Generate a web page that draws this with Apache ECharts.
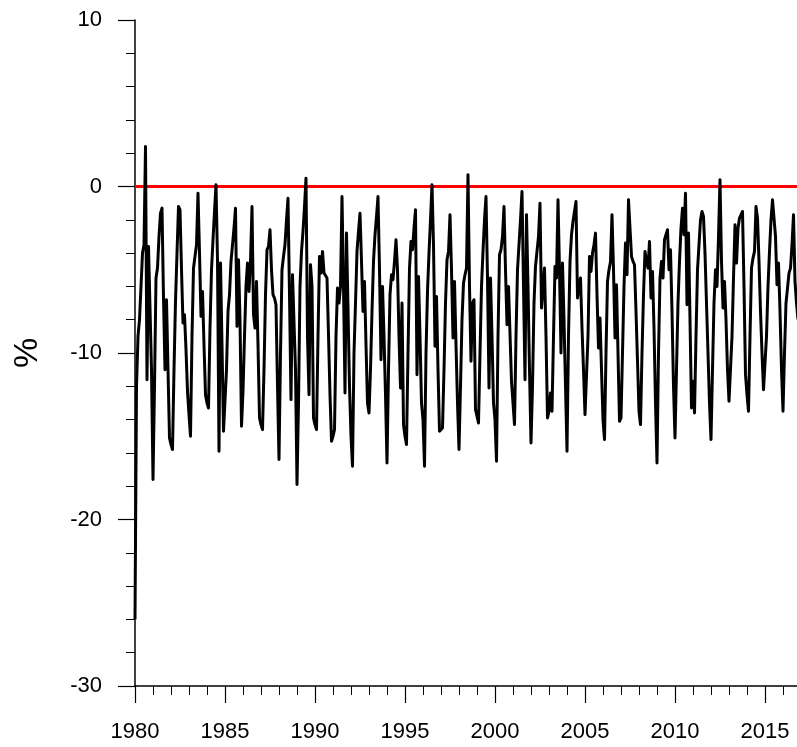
<!DOCTYPE html>
<html>
<head>
<meta charset="utf-8">
<script src="https://cdn.jsdelivr.net/npm/echarts@6/dist/echarts.min.js"></script>
<style>
html,body{margin:0;padding:0;background:#fff;overflow:hidden;width:797px;height:747px;}
#chart{width:860px;height:747px;}
</style>
</head>
<body>
<div id="chart"></div>
<script>
// Monthly values (%), starting January 1980
const startYear = 1980;
const values1980s = [
  -26, -12, -9, -8, -6, -4, -3.5, 2.4, -11.6, -3.6, -3.7, -11,
  -17.6, -12, -5.5, -4.9, -3, -1.6, -1.3, -6.7, -11, -6.8, -11, -15.1,
  -15.5, -15.8, -11, -6.9, -4, -1.2, -1.4, -5, -8.2, -7.7, -9.8, -12.3,
  -13.7, -15, -9, -4.9, -4.2, -3.5, -0.4, -4, -7.8, -6.3, -9.5, -12.5,
  -13, -13.3, -8.5, -5, -3.2, -1.5, 0.1, -4.4, -15.9, -4.6, -9.5, -14.7,
  -14.7, -11, -7.5, -6.5, -4.5, -3.5, -2.5, -1.3, -8.4, -4.4, -8, -14.4,
  -12.3, -9, -6, -4.6, -6.3, -4.5, -1.2, -7.7, -8.5, -5.7, -9.5, -13.9,
  -14.3, -14.6, -11, -6.5, -3.8, -3.6, -2.6, -5, -6.5, -6.7, -7.1, -12,
  -16.4, -10, -5, -4.2, -3.5, -2, -0.7, -6.5, -12.8, -5.3, -5.3, -11,
  -17.9, -13, -6, -3.9, -2.7, -1.2, 0.5, -9, -12.5, -4.7, -6, -13.9
];
const values1990s = [
  -14.3, -14.6, -9, -4.2, -5.2, -3.9, -5.2, -5.1, -5.5, -8.9, -12.5, -15.3,
  -15, -14.6, -9, -6.1, -7, -6, -0.6, -6, -12.4, -2.8, -7.3, -12,
  -15, -16.8, -10, -7, -3.9, -2.7, -1.6, -4.5, -7.5, -5.7, -9.5, -13,
  -13.6, -11, -7.5, -4.5, -2.9, -1.8, -0.6, -5, -10.4, -6, -9, -12.5,
  -16.6, -11, -6.5, -5.3, -5.6, -4.5, -3.2, -5, -9, -12.1, -7, -14.3,
  -15, -15.5, -10, -4.9, -3.3, -3.8, -2.5, -1.4, -11.3, -5.4, -9, -13,
  -14, -16.8, -10, -6.3, -4, -2, 0.1, -3.5, -9.6, -6.6, -11, -14.7,
  -14.6, -14.5, -11, -7, -4.4, -3.9, -1.7, -5, -9.1, -5.7, -9.5, -13,
  -15.8, -12, -8, -5.8, -5.3, -4.9, 0.7, -6, -10.5, -7, -6.8, -13.4,
  -13.8, -14.2, -10, -6, -3.9, -2, -0.6, -5.5, -12.1, -5.5, -9, -13
];
const values2000s = [
  -14, -16.5, -9, -4.1, -3.8, -3, -1.2, -5, -8.3, -6, -6, -11.7,
  -13, -14.3, -9, -5, -3.5, -2, -0.3, -6, -11.6, -1.7, -6, -11,
  -15.4, -12, -7, -4.8, -4.8, -3, -1, -7.3, -6, -4.9, -9, -13.9,
  -13.5, -12.4, -13.5, -9, -4.8, -5.5, -0.8, -5, -10, -4.6, -8, -12,
  -15.9, -9, -4.5, -2.9, -2.1, -1.5, -0.9, -6.7, -6, -5.5, -8.5, -11,
  -13.7, -13.8, -9, -4.2, -5.1, -4, -3.5, -2.8, -6.5, -9.7, -7.9, -11,
  -14, -15.2, -10, -5.7, -5, -4.5, -1.7, -5, -9.1, -5.9, -10, -14.1,
  -13.9, -10, -6, -3.4, -5.3, -0.8, -2.5, -4.2, -4.5, -4.7, -7.5, -10.5,
  -13.5, -14.3, -10, -6.5, -3.9, -4.5, -4.9, -3.3, -6.7, -5.1, -8.5, -13,
  -16.6, -10, -5.5, -4.5, -5.5, -3.2, -2.9, -2.6, -5, -3.8, -7.5, -12
];
const values2010s = [
  -15.1, -11, -7, -4.5, -2.5, -1.3, -2.9, -0.4, -7.1, -2.8, -8, -13.3,
  -11.7, -13.6, -9, -5, -3.5, -2, -1.5, -1.8, -4, -7, -10, -13,
  -15.2, -11, -7, -5, -6, -3, 0.4, -4.5, -7.3, -5.7, -8, -11,
  -12.9, -13, -9, -5.5, -2.3, -4.6, -2.5, -1.9, -1.7, -1.5, -6, -11.3,
  -12.5, -13.5, -9, -4.9, -4.3, -3.9, -1.2, -1.9, -4.5, -7.5, -10, -12.2,
  -12.1, -9, -6, -3.9, -2, -0.8, -0.8, -3, -5.9, -4.6, -7.5, -11,
  -13.5, -10, -7, -6.1, -5.2, -4.9, -3.5, -1.7, -5.7, -7, -8
];
const referenceLevel = 0;
const xMin = 1980, xMax = 2020, xStep = 5;
const yMin = -30, yMax = 10, yStep = 10;

const allValues = values1980s.concat(values1990s, values2000s, values2010s);
const seriesData = allValues.map((v, i) => [startYear + i / 12, v]);

const chart = echarts.init(document.getElementById('chart'), null, {renderer: 'canvas'});
const font = '"Liberation Sans", Arial, Helvetica, sans-serif';
chart.setOption({
  animation: false,
  backgroundColor: '#ffffff',
  grid: {left: 135, top: 20, width: 720, height: 666, containLabel: false},
  xAxis: {
    type: 'value', min: xMin, max: xMax, interval: xStep,
    axisLine: {show: true, onZero: false, lineStyle: {color: '#000', width: 1.5}},
    axisTick: {show: true, inside: false, length: 17, lineStyle: {color: '#000', width: 1.2}},
    minorTick: {show: true, splitNumber: 5, length: 9, lineStyle: {color: '#000', width: 1}},
    splitLine: {show: false},
    axisLabel: {
      show: true, margin: 35, color: '#000', fontSize: 22, fontFamily: font,
      formatter: v => (v % 5 === 0 && v < xMax) ? String(v) : ''
    }
  },
  yAxis: {
    type: 'value', min: yMin, max: yMax, interval: yStep,
    name: '%', nameLocation: 'middle', nameGap: 90, nameRotate: 90,
    nameTextStyle: {color: '#000', fontSize: 34, fontFamily: font},
    axisLine: {show: true, onZero: false, lineStyle: {color: '#000', width: 1.5}},
    axisTick: {show: true, inside: false, length: 17, lineStyle: {color: '#000', width: 1.2}},
    minorTick: {show: true, splitNumber: 5, length: 9, lineStyle: {color: '#000', width: 1}},
    splitLine: {show: false},
    axisLabel: {show: true, margin: 33, color: '#000', fontSize: 22, fontFamily: font}
  },
  series: [
    {
      type: 'line', z: 1, silent: true, symbol: 'none',
      data: [[xMin, referenceLevel], [xMax, referenceLevel]],
      lineStyle: {color: '#ff0000', width: 3}
    },
    {
      type: 'line', z: 2, silent: true, symbol: 'none', clip: true,
      data: seriesData,
      lineStyle: {color: '#000', width: 3, join: 'round'}
    }
  ]
});
</script>
</body>
</html>
